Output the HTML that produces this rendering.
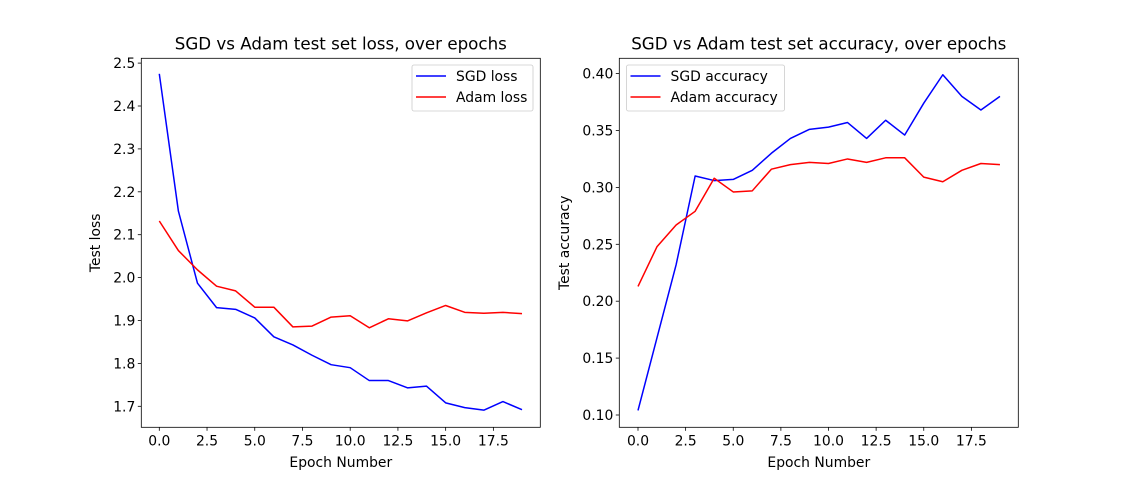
<!DOCTYPE html>
<html><head><meta charset="utf-8"><style>
html,body{margin:0;padding:0;background:#fff}
svg{display:block;font-family:"DejaVu Sans","Liberation Sans",sans-serif}
</style></head><body>
<svg id="c" width="1131" height="480" xmlns="http://www.w3.org/2000/svg"></svg>
<script>
const epochs=[0,1,2,3,4,5,6,7,8,9,10,11,12,13,14,15,16,17,18,19];
const sgdLoss=[2.475,2.155,1.987,1.93,1.926,1.906,1.862,1.843,1.819,1.797,1.79,1.76,1.76,1.743,1.747,1.708,1.697,1.691,1.711,1.692];
const adamLoss=[2.132,2.063,2.018,1.98,1.969,1.931,1.931,1.885,1.887,1.908,1.911,1.883,1.904,1.899,1.918,1.935,1.919,1.917,1.919,1.916];
const sgdAcc=[0.104,0.168,0.232,0.310,0.306,0.307,0.315,0.330,0.343,0.351,0.353,0.357,0.343,0.359,0.346,0.374,0.399,0.380,0.368,0.380];
const adamAcc=[0.213,0.248,0.267,0.279,0.308,0.296,0.297,0.316,0.320,0.322,0.321,0.325,0.322,0.326,0.326,0.309,0.305,0.315,0.321,0.320];
const xTicks=[0,2.5,5,7.5,10,12.5,15,17.5];
const xTickLabels=["0.0","2.5","5.0","7.5","10.0","12.5","15.0","17.5"];
const lossTicks=[1.7,1.8,1.9,2.0,2.1,2.2,2.3,2.4,2.5];
const lossTickLabels=["1.7","1.8","1.9","2.0","2.1","2.2","2.3","2.4","2.5"];
const accTicks=[0.10,0.15,0.20,0.25,0.30,0.35,0.40];
const accTickLabels=["0.10","0.15","0.20","0.25","0.30","0.35","0.40"];

const svg=document.getElementById('c');
const NS='http://www.w3.org/2000/svg';
function mk(tag,attrs,parent){const e=document.createElementNS(NS,tag);for(const k in attrs)e.setAttribute(k,attrs[k]);(parent||svg).appendChild(e);return e;}

function panel(o){
  const g=mk('g',{});
  
  
  const X=v=>o.x0+(v-0)*o.xs;
  const Y=v=>o.y0-(v-o.yv0)*o.ys;
  o.series.forEach(s=>{
    const p=mk('polyline',{points:s.vals.map((v,i)=>X(epochs[i])+','+Y(v)).join(' '),fill:'none',stroke:s.color,'stroke-width':1.5,'stroke-linejoin':'round'},g);
    
    
  });
  const fr=mk('rect',{x:o.L,y:o.T,width:o.R-o.L,height:o.B-o.T,fill:'none',stroke:'#000','stroke-width':0.8},g);
  
  
  xTicks.forEach((t,i)=>{
    const x=X(t);
    mk('line',{x1:x,x2:x,y1:o.B,y2:o.B+3.5,stroke:'#000','stroke-width':0.8},g);
    const tx=mk('text',{x:x,y:o.B+18,'font-size':13.9,'text-anchor':'middle',fill:'#000'},g);
    tx.textContent=xTickLabels[i];
    
    
  });
  o.yTicks.forEach((t,i)=>{
    const y=Y(t);
    mk('line',{x1:o.L-3.5,x2:o.L,y1:y,y2:y,stroke:'#000','stroke-width':0.8},g);
    const tx=mk('text',{x:o.L-6,y:y+5,'font-size':13.9,'text-anchor':'end',fill:'#000'},g);
    tx.textContent=o.yLabels[i];
    
    
  });
  const t=mk('text',{x:(o.L+o.R)/2,y:o.T-9,'font-size':16.7,'text-anchor':'middle'},g);
  t.textContent=o.title;
  
  
  const xl=mk('text',{x:(o.L+o.R)/2,y:467,'font-size':13.9,'text-anchor':'middle'},g);
  xl.textContent='Epoch Number';
  
  
  const yl=mk('text',{x:0,y:0,'font-size':13.9,'text-anchor':'middle',transform:`translate(${o.ylx},${(o.T+o.B)/2}) rotate(-90)`},g);
  yl.textContent=o.ylabel;
  
  
  const lg=mk('g',{},g);
  
  
  mk('rect',{x:o.lx,y:65,width:o.lw,height:46,rx:2,fill:'#fff','fill-opacity':0.8,stroke:'#ccc','stroke-width':0.8},lg);
  o.series.forEach((s,i)=>{
    const y=76+i*21;
    mk('line',{x1:o.lx+4,x2:o.lx+34,y1:y,y2:y,stroke:s.color,'stroke-width':1.5},lg);
    const tx=mk('text',{x:o.lx+44,y:y+5,'font-size':13.9},lg);
    tx.textContent=s.label;
    
    
  });
}
panel({name:'loss-panel',L:141.3,R:540.3,T:58.3,B:427.3,x0:159.3,xs:19.09,y0:406.3,yv0:1.7,ys:429,
  yTicks:lossTicks,yLabels:lossTickLabels,title:'SGD vs Adam test set loss, over epochs',ylabel:'Test loss',ylx:100,
  lx:412,lw:121,
  series:[{name:'sgd-loss-line',label:'SGD loss',color:'#0000ff',vals:sgdLoss},{name:'adam-loss-line',label:'Adam loss',color:'#ff0000',vals:adamLoss}]});
panel({name:'accuracy-panel',L:619.3,R:1018.3,T:58.3,B:427.3,x0:638,xs:19.05,y0:415,yv0:0.10,ys:1138,
  yTicks:accTicks,yLabels:accTickLabels,title:'SGD vs Adam test set accuracy, over epochs',ylabel:'Test accuracy',ylx:569,
  lx:626.5,lw:158,
  series:[{name:'sgd-accuracy-line',label:'SGD accuracy',color:'#0000ff',vals:sgdAcc},{name:'adam-accuracy-line',label:'Adam accuracy',color:'#ff0000',vals:adamAcc}]});
</script>
</body></html>
